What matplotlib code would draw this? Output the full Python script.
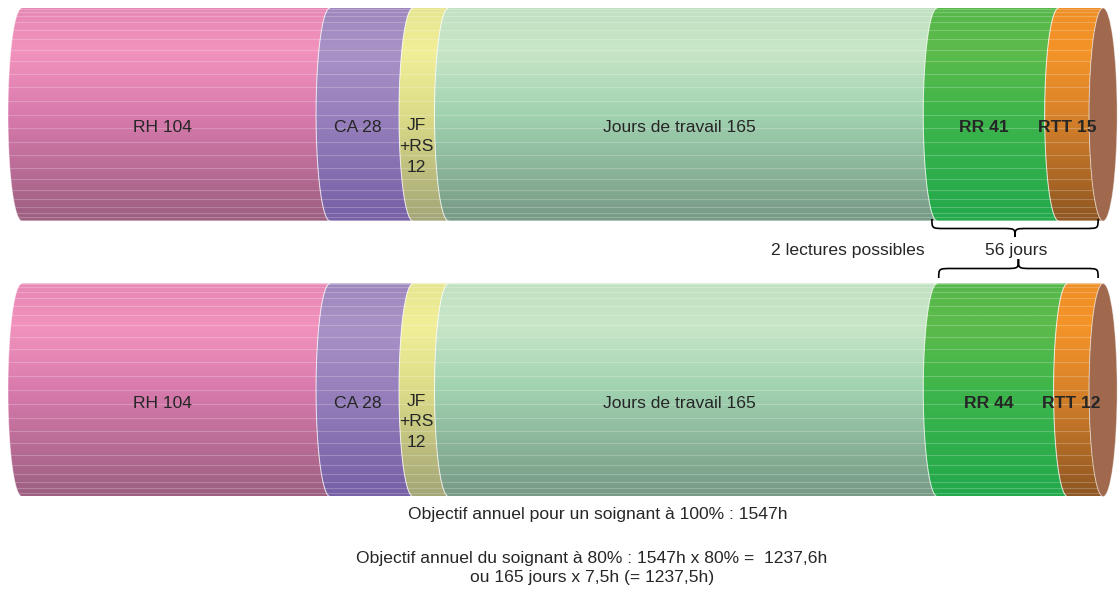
import numpy as np
import matplotlib.pyplot as plt
from matplotlib.patches import PathPatch, Ellipse
from matplotlib.path import Path
from matplotlib.colors import LinearSegmentedColormap

# Données : répartition des 365 jours, deux lectures possibles
categories = ["RH", "CA", "JF\n+RS", "Jours de travail", "RR", "RTT"]
lecture_1 = [104, 28, 12, 165, 41, 15]
lecture_2 = [104, 28, 12, 165, 44, 12]
en_gras = [False, False, False, False, True, True]

brace_label = "56 jours"
lectures_label = "2 lectures possibles"
notes = ["Objectif annuel pour un soignant à 100% : 1547h",
         "Objectif annuel du soignant à 80% : 1547h x 80% =  1237,6h\nou 165 jours x 7,5h (= 1237,5h)"]

# couleurs (haut, clair, milieu, bas) pour chaque segment
couleurs = [
    ["#e688b4", "#f293bd", "#d87aad", "#9c5f80"],
    ["#9d87bd", "#a892c6", "#9780bc", "#7660a6"],
    ["#e6e690", "#f1ef98", "#dcdc88", "#a3a576"],
    ["#c2e0c2", "#c8e6c8", "#a0d2b0", "#779985"],
    ["#56b84a", "#5cbb4a", "#3eb54b", "#22a94c"],
    ["#ee8e26", "#f49428", "#d8822a", "#8e5622"],
]
couleur_fond = "#a0694e"
texte_c = "#262626"

plt.rcParams['font.family'] = ['Liberation Sans', 'DejaVu Sans']

fig = plt.figure(figsize=(11.19, 5.92), dpi=100)
ax = fig.add_axes([0, 0, 1, 1])
ax.axis('off')

px_jour = 2.962
x_gauche = -22 / px_jour
x_droite = (1119 - 22) / px_jour
a = 14 / px_jour   # demi-largeur des ellipses
r = 106.5


def arc(x, yc, sens=1):
    t = np.linspace(0, np.pi, 60)
    if sens < 0:
        t = t[::-1]
    return np.column_stack([x - a * np.sin(t), yc - r * np.cos(t)])


def cylindre(valeurs, yc):
    bornes = np.concatenate([[0], np.cumsum(valeurs)])
    for i, v in enumerate(valeurs):
        s, e = bornes[i], bornes[i + 1]
        pts = np.vstack([arc(s, yc, 1), arc(e, yc, -1)])
        patch = PathPatch(Path(pts, closed=False), facecolor='none',
                          edgecolor=(1, 1, 1, 0.45), lw=0.7, zorder=3)
        ax.add_patch(patch)
        cmap = LinearSegmentedColormap.from_list(
            "c%d" % i, list(zip([0, 0.2, 0.5, 1], couleurs[i])))
        grad = np.linspace(0, 1, 256).reshape(-1, 1)
        im = ax.imshow(grad, cmap=cmap, aspect='auto', origin='upper',
                       extent=(s - a, e, yc + r, yc - r), zorder=1,
                       interpolation='bilinear')
        im.set_clip_path(patch)
        th = np.linspace(0, np.pi, 25)[1:-1]
        for yl in yc - r * np.cos(th):
            ln = ax.plot([s - a, e], [yl, yl], color='white', alpha=0.22,
                         lw=0.8, zorder=2)[0]
            ln.set_clip_path(patch)
        # étiquette
        lab = categories[i] + ("\n" if "\n" in categories[i] else " ") + str(v)
        dy = 32 if "\n" in categories[i] else 13.5
        ax.text((s + e) / 2 - a, yc + dy, lab, ha='center', va='center',
                fontsize=12.6, color=texte_c, linespacing=1.48,
                fontweight='bold' if en_gras[i] else 'normal', zorder=5)
    ax.add_patch(Ellipse((bornes[-1], yc), 2 * a, 2 * r, facecolor=couleur_fond,
                         edgecolor=(1, 1, 1, 0.4), lw=0.7, zorder=4))
    return bornes


def accolade(x0, x1, y_bout, y_mil, y_pointe, w=4.5):
    tip = (x0 + x1) / 2
    verts = [(x0, y_bout), (x0, y_mil), (x0, y_mil), (x0 + w, y_mil),
             (tip - w, y_mil),
             (tip, y_mil), (tip, y_mil), (tip, y_pointe),
             (tip, y_mil), (tip, y_mil), (tip + w, y_mil),
             (x1 - w, y_mil),
             (x1, y_mil), (x1, y_mil), (x1, y_bout)]
    codes = [Path.MOVETO, Path.CURVE4, Path.CURVE4, Path.CURVE4,
             Path.LINETO,
             Path.CURVE4, Path.CURVE4, Path.CURVE4,
             Path.CURVE4, Path.CURVE4, Path.CURVE4,
             Path.LINETO,
             Path.CURVE4, Path.CURVE4, Path.CURVE4]
    ax.add_patch(PathPatch(Path(verts, codes), facecolor='none',
                           edgecolor='black', lw=1.2, zorder=6))


b1 = cylindre(lecture_1, 114.5)
b2 = cylindre(lecture_2, 390)

accolade(b1[4] - 1.8, b1[-1] - 1.7, 219, 228.5, 237)
accolade(b2[4] + 0.5, b2[-1] - 1.7, 278, 268.5, 259)

ax.text((b1[4] + b1[-1]) / 2 - 1.2, 250, brace_label, ha='center', va='center',
        fontsize=12.6, color=texte_c)
ax.text(b1[4] - 4.3, 250, lectures_label, ha='right', va='center',
        fontsize=12.6, color=texte_c)
ax.text((598 - 22) / px_jour, 514, notes[0], ha='center', va='center',
        fontsize=12.6, color=texte_c)
ax.text((592 - 22) / px_jour, 568, notes[1], ha='center', va='center',
        fontsize=12.6, color=texte_c, linespacing=1.4, multialignment='center')

ax.set_xlim(x_gauche, x_droite)
ax.set_ylim(592, 0)

fig.savefig("out.png", dpi=100)
